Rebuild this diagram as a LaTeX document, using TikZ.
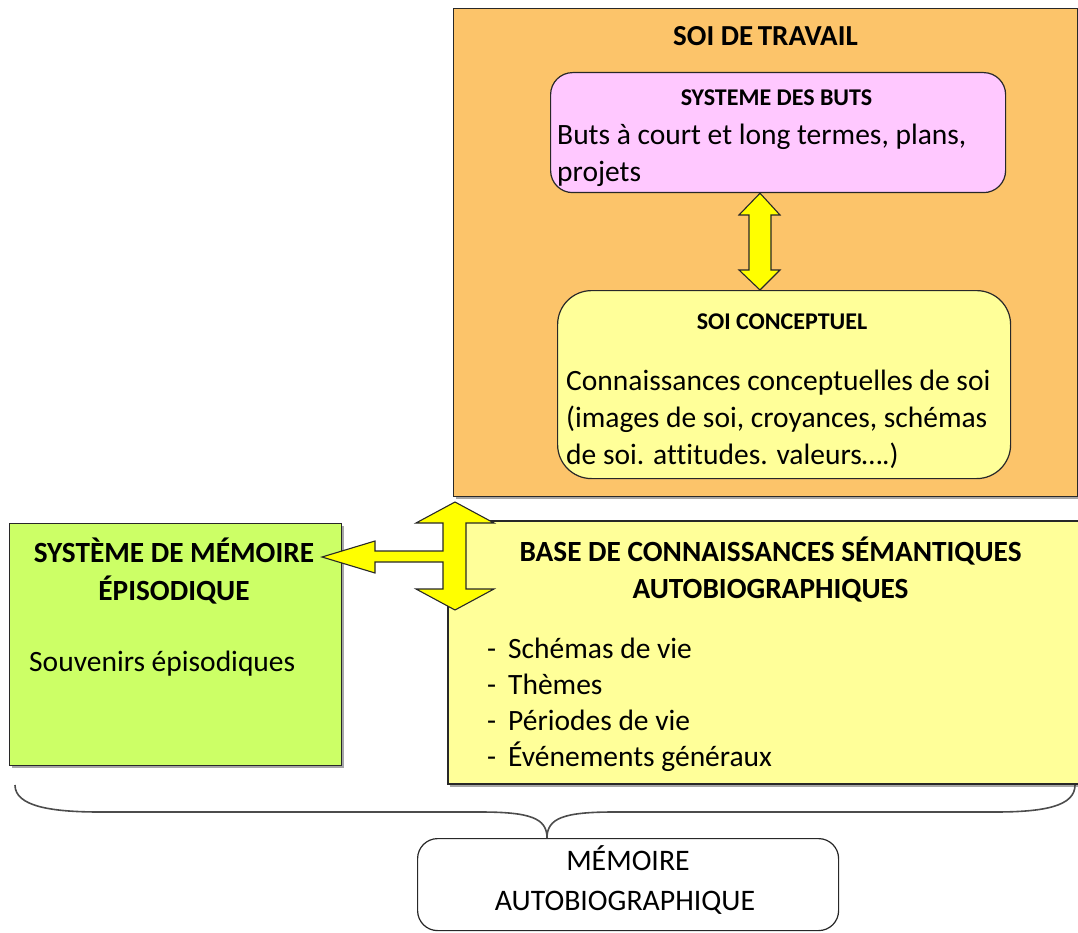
\documentclass[tikz,border=0pt]{standalone}
\usepackage{fontspec}
\setmainfont{Carlito}[Ligatures=NoCommon]
\definecolor{orangebg}{RGB}{252,196,106}
\definecolor{pinkbg}{RGB}{255,200,255}
\definecolor{paleyellow}{RGB}{255,255,153}
\definecolor{limegreen}{RGB}{204,255,102}
\definecolor{arrowyellow}{RGB}{255,255,0}
\definecolor{edge}{RGB}{40,40,40}
\begin{document}
\begin{tikzpicture}[x=1pt,y=-1pt,
  box/.style={draw=edge, line width=1.2pt, inner sep=0pt, anchor=north west},
  shadowed/.style={preaction={fill=black!35, draw=none, transform canvas={shift={(2pt,-2.5pt)}}}},
  line/.style={anchor=base west, inner sep=0pt, font=\fontsize{29.5}{34}\selectfont},
  head/.style={anchor=base, inner sep=0pt, font=\fontsize{29.3}{34}\selectfont\bfseries},
  subhead/.style={anchor=base, inner sep=0pt, font=\fontsize{24}{28}\selectfont\bfseries},
  plain/.style={anchor=base, inner sep=0pt, font=\fontsize{29.8}{34}\selectfont},
  bigarrow/.style={fill=arrowyellow, draw=edge, line width=1.1pt, line join=miter},
  brace/.style={draw=black!70, line width=1.6pt}
]
\useasboundingbox (0,0) rectangle (1078,933);

% ---- working self ----
\node[box, shadowed, fill=orangebg, minimum width=624pt, minimum height=488pt] (travail) at (453,8) {};
\node[head, font=\fontsize{29}{34}\selectfont\bfseries] (travailT) at (765.5,46) {SOI DE\hspace{-2pt} TRAVAIL};

\node[box, fill=pinkbg, rounded corners=22pt, minimum width=455pt, minimum height=120pt] (buts) at (550,72) {};
\node[subhead] (butsT) at (776.5,106) {SYSTEME DES BUTS};
\node[line] (butsL1) at (557,145) {Buts à court et long termes, plans,};
\node[line] (butsL2) at (557,182) {projets};

\node[box, fill=paleyellow, rounded corners=34pt, minimum width=453pt, minimum height=188pt] (concept) at (557,290) {};
\node[subhead] (conceptT) at (782,329) {SOI CONCEPTUEL};
\node[line] (conceptL1) at (566,390) {Connaissances conceptuelles de soi};
\node[line] (conceptL2) at (566,427) {(images de soi, croyances, schémas};
\node[line] (conceptL3) at (566,464) {de soi. attitudes. valeurs….)};

% two-way arrow between goals and conceptual self
\coordinate (upTip) at (buts.south -| 760,0);
\coordinate (downTip) at (concept.north -| 760,0);
\draw[bigarrow] (upTip) -- (780,215) -- (771,215) -- (771,270) -- (780,270) -- (downTip)
  -- (739,270) -- (749,270) -- (749,215) -- (739,215) -- cycle;

% ---- episodic memory ----
\node[box, shadowed, fill=limegreen, minimum width=332pt, minimum height=242pt] (episod) at (9,523) {};
\node[head] (episodT1) at (174,562) {SYSTÈME DE MÉMOIRE};
\node[head] (episodT2) at (174,600) {ÉPISODIQUE};
\node[line] (episodL) at (29,671) {Souvenirs épisodiques};

% ---- autobiographical knowledge base ----
\fill[black!35] (450,524) rectangle (1078,787);
\fill[paleyellow] (448,521) rectangle (1078,784);
\draw[edge, line width=1.2pt] (1078,521) -- (448,521) -- (448,784) -- (1078,784);
\node[head] (baseT1) at (770.5,561) {BASE DE CONNAISSANCES SÉMANTIQUES};
\node[head] (baseT2) at (770.5,598) {AUTOBIOGRAPHIQUES};
\node[line] (baseL1) at (487,658) {\makebox[21pt][l]{-}Schémas de vie};
\node[line] (baseL2) at (487,694) {\makebox[21pt][l]{-}Thèmes};
\node[line] (baseL3) at (487,730) {\makebox[21pt][l]{-}Périodes de vie};
\node[line] (baseL4) at (487,766) {\makebox[21pt][l]{-}Événements généraux};

% three-way arrow: working self, episodic system, knowledge base
\coordinate (hubTop) at (455,502);
\coordinate (hubBottom) at (455,610);
\coordinate (hubTip) at (322,557);
\draw[bigarrow] (hubTop) -- (494,523) -- (466,523) -- (466,589) -- (494,589) -- (hubBottom)
  -- (416,589) -- (443,589) -- (443,562) -- (375,562) -- (375,573) -- (hubTip)
  -- (375,541) -- (375,551) -- (443,551) -- (443,523) -- (416,523) -- cycle;

% ---- autobiographical memory ----
\node[box, fill=white, rounded corners=20pt, minimum width=421pt, minimum height=92pt] (autobio) at (417,838) {};
\node[plain] (autobioT1) at (628,870) {MÉMOIRE};
\node[plain] (autobioT2) at (625,910) {AUTOBIOGRAPHIQUE};

% brace gathering both memory stores
\coordinate (braceTip) at (autobio.north -| 547,0);
\draw[brace] (15,785) .. controls (15,806) and (50,812) .. (100,812) -- (480,812)
  .. controls (530,812) and (547,818) .. (braceTip)
  .. controls (547,818) and (564,812) .. (614,812) -- (995,812)
  .. controls (1045,812) and (1075,806) .. (1075,785);
\end{tikzpicture}
\end{document}
